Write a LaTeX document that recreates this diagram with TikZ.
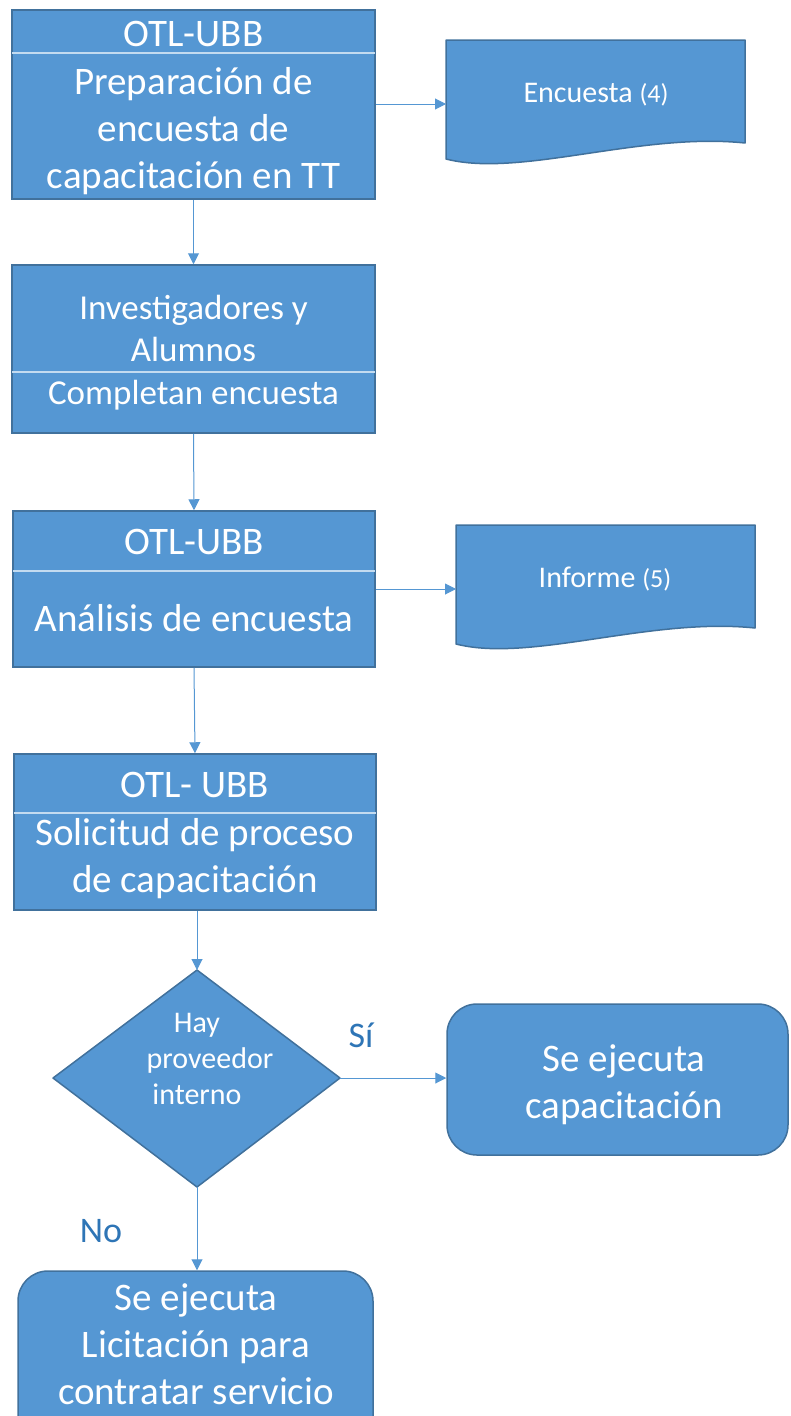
\documentclass[tikz,border=0pt]{standalone}
\usepackage{fontspec}
\setmainfont{Carlito}
\usetikzlibrary{arrows.meta}
\definecolor{boxfill}{HTML}{5597D3}
\definecolor{boxedge}{HTML}{41719C}
\definecolor{lblue}{HTML}{2E75B6}
\begin{document}
\begin{tikzpicture}[x=1pt,y=-1pt,
  proc/.style={rectangle, draw=boxedge, fill=boxfill, line width=1.5pt, inner sep=0pt},
  term/.style={rectangle, rounded corners=30pt, draw=boxedge, fill=boxfill, line width=1.5pt, inner sep=0pt},
  shapefill/.style={draw=boxedge, fill=boxfill, line width=1.5pt, line join=round},
  txt/.style={text=white, align=center, inner sep=0pt, font=\fontsize{39}{47}\selectfont},
  midtxt/.style={text=white, align=center, inner sep=0pt, font=\fontsize{35}{42}\selectfont},
  smalltxt/.style={text=white, align=center, inner sep=0pt, font=\fontsize{30}{36}\selectfont},
  doctxt/.style={text=white, inner sep=0pt, anchor=base, font=\fontsize{30}{34}\selectfont},
  lbl/.style={text=lblue, inner sep=0pt, anchor=base, font=\fontsize{36}{40}\selectfont},
  sepline/.style={draw=white!65!boxfill, line width=1.2pt},
  conn/.style={draw=boxfill, line width=1pt, -{Triangle[length=11pt,width=11pt]}}]
\useasboundingbox (0,0) rectangle (790,1416);
\clip (0,0) rectangle (790,1416);

% box 1
\node[proc, minimum width=363pt, minimum height=189pt] (b1) at (193.5,104.5) {};
\draw[sepline] (12,53) -- (375,53);
\node[txt] (b1h) at (193.5,34) {OTL-UBB};
\node[txt] (b1t) at (193.5,131.5) {Preparación de\\encuesta de\\capacitación en TT};

% box 2
\node[proc, minimum width=363pt, minimum height=168pt] (b2) at (193.5,349) {};
\draw[sepline] (12,372) -- (375,372);
\node[midtxt] (b2h) at (193.5,328) {Investigadores y\\Alumnos};
\node[midtxt] (b2t) at (193.5,395.5) {Completan encuesta};

% box 3
\node[proc, minimum width=362pt, minimum height=156pt] (b3) at (194,589) {};
\draw[sepline] (13,571) -- (375,571);
\node[txt] (b3h) at (194,542) {OTL-UBB};
\node[txt] (b3t) at (194,618) {Análisis de encuesta};

% box 4
\node[proc, minimum width=362pt, minimum height=156pt] (b4) at (195,832) {};
\draw[sepline] (14,813) -- (376,813);
\node[txt] (b4h) at (195,785) {OTL- UBB};
\node[txt] (b4t) at (195,859) {Solicitud de proceso\\de capacitación};

% document: Encuesta
\coordinate (d1tl) at (446,40);
\coordinate (d1tr) at (745,40);
\coordinate (d1br) at (745,143);
\coordinate (d1bl) at (446,159);
\coordinate (d1in) at (446,104);
\path[shapefill] (d1tl) -- (d1tr) -- (d1br) .. controls (640,132) and (520,178) .. (d1bl) -- cycle;
\node[doctxt] (d1t) at (596,102) {Encuesta {\fontsize{26}{30}\selectfont(4)}};

% document: Informe
\coordinate (d2tl) at (456,525);
\coordinate (d2tr) at (755,525);
\coordinate (d2br) at (755,628);
\coordinate (d2bl) at (456,644);
\coordinate (d2in) at (456,589);
\path[shapefill] (d2tl) -- (d2tr) -- (d2br) .. controls (650,617) and (530,663) .. (d2bl) -- cycle;
\node[doctxt] (d2t) at (605,587) {Informe {\fontsize{26}{30}\selectfont(5)}};

% decision
\coordinate (dtop) at (197,970);
\coordinate (dright) at (340,1078);
\coordinate (dbot) at (197,1187);
\coordinate (dleft) at (53,1078);
\path[shapefill] (dtop) -- (dright) -- (dbot) -- (dleft) -- cycle;
\node[smalltxt] (dt) at (197,1059) {Hay\\\hspace*{26pt}proveedor\\interno};

% terminals
\node[term, minimum width=341pt, minimum height=151pt] (r1) at (617.5,1079.5) {};
\node[txt] (r1t) at (624,1084.5) {Se ejecuta\\capacitación};
\node[term, minimum width=355pt, minimum height=200pt] (r2) at (195.5,1371) {};
\node[txt] (r2t) at (196,1344.5) {Se ejecuta\\Licitación para\\contratar servicio};

% labels
\node[lbl] (lsi) at (361,1047) {Sí};
\node[lbl] (lno) at (101,1242) {No};

% connectors
\draw[conn] (b1.south) -- (b2.north);
\draw[conn] (b1.east |- d1in) -- (d1in);
\draw[conn] (b2.south) -- (b3.north);
\draw[conn] (b3.east |- d2in) -- (d2in);
\draw[conn] (b3.south) -- (b4.north);
\draw[conn] (b4.south -| dtop) -- (dtop);
\draw[conn] (dright) -- (r1.west |- dright);
\draw[conn] (dbot) -- (r2.north -| dbot);
\end{tikzpicture}
\end{document}
